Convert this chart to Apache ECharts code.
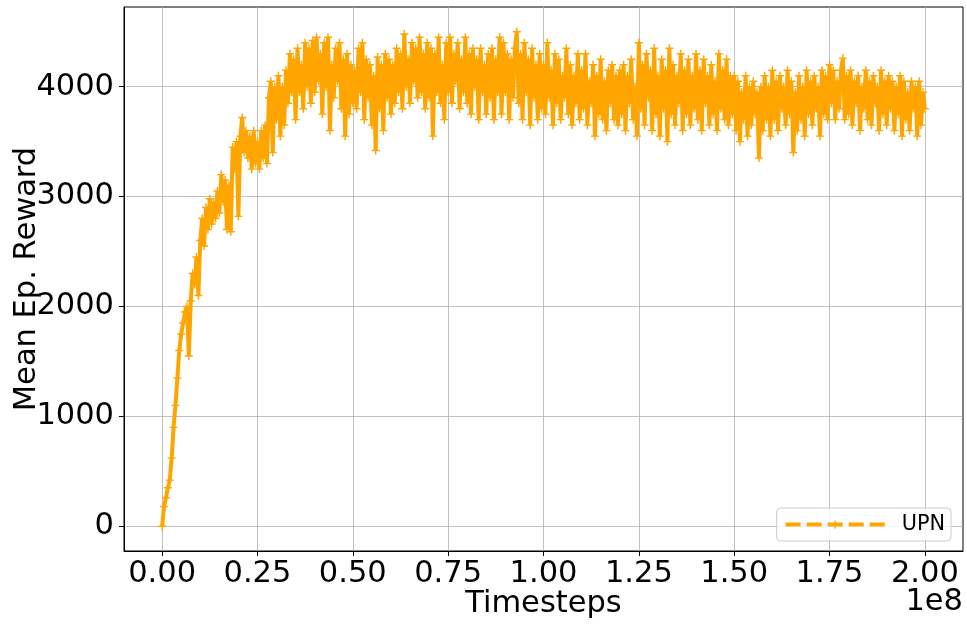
<!DOCTYPE html>
<html>
<head>
<meta charset="utf-8">
<script src="https://cdn.jsdelivr.net/npm/echarts@6/dist/echarts.min.js"></script>
<style>html,body{margin:0;padding:0;background:#fff;}#c{width:967px;height:627px;}</style>
</head>
<body>
<div id="c"></div>
<script>
// Timestep spacing between logged points
const STEP = 5e5;
// Mean episode reward, one value per logged point (0 .. 2e8)
const rewards = [
  0,180,260,350,420,620,900,1100,1350,1600,1750,1850,1950,2000,1550,2050,2300,2200,2450,2100,
  2600,2800,2550,2900,2700,2980,2750,2950,2800,3050,2850,3200,2950,3150,2700,3100,2680,3450,3250,3500,
  2820,3550,3720,3400,3600,3350,3550,3250,3600,3300,3500,3250,3600,3350,3650,3300,3900,4050,3400,4000,
  3700,4100,3550,4000,3650,4150,3850,4300,3950,4250,3700,4350,3950,4200,3800,4400,4000,4350,3850,4420,
  3950,4450,4050,4300,3750,4400,4000,4450,3600,4200,3900,4350,4050,4400,3800,4250,3550,4300,3750,4200,
  3850,4150,3800,4350,3950,4400,3700,4250,3900,4200,3650,4100,3420,4270,3800,4200,3600,4300,3900,4250,
  3750,4200,3850,4350,3950,4300,3800,4480,4000,4250,3850,4400,4050,4350,3900,4450,3950,4300,3800,4400,
  3900,4350,3550,4300,3950,4450,3850,4200,3700,4400,3950,4450,3850,4300,4050,4400,3800,4250,3950,4450,
  3850,4300,3750,4350,4000,4250,3700,4350,3950,4200,3750,4300,3900,4350,3700,4250,3950,4450,3750,4400,
  3950,4300,3700,4250,3900,4350,4500,3850,4300,3700,4400,3950,4250,3650,4350,3900,4200,3700,4300,3800,
  4200,3750,4400,3900,4150,3650,4300,3850,4250,3700,4100,3900,4350,3750,4200,3650,4100,3850,4300,3700,
  4150,3800,4300,3650,4050,3850,4200,3550,4100,3750,4250,3700,4050,3600,4150,3850,4200,3700,4100,3650,
  4150,3750,4200,3600,4100,3850,4250,3700,4000,3550,4400,3800,4200,3650,4300,3900,4150,3600,4350,3750,
  4100,3550,4250,3800,4150,3500,4350,3750,4200,3650,4100,3850,4300,3600,4150,3750,4250,3650,4100,3800,
  4300,3700,4150,3600,4250,3850,4100,3650,4200,3750,4050,3600,4300,3800,4150,3700,4250,3650,4100,3750,
  4100,3600,4050,3500,3950,3700,4100,3550,4000,3650,4050,3750,3950,3350,4000,3600,4100,3700,4000,3550,
  4150,3700,4050,3600,4100,3800,4000,3650,4150,3750,4050,3400,3950,3600,4100,3700,4000,3550,4150,3750,
  4050,3650,4100,3800,4000,3550,4150,3750,4100,3700,4200,3850,4150,3700,4050,3800,4150,4260,3700,4100,
  3750,4150,3650,4050,3850,4100,3600,4000,3800,4150,3700,4050,3650,4100,3850,4000,3600,4150,3750,4050,
  3650,4100,3800,4050,3600,4000,3750,4100,3550,4050,3700,3950,3600,4050,3800,4000,3550,4050,3650,3950,
  3800
];
// Axis tick values
const xTicks = [0, 0.25e8, 0.5e8, 0.75e8, 1e8, 1.25e8, 1.5e8, 1.75e8, 2e8];
const yTicks = [0, 1000, 2000, 3000, 4000];
const seriesName = 'UPN';

const points = rewards.map((v, i) => [i * STEP, v]);
const plus = 'path://M0,4.1H10V5.9H0Z M4.1,0H5.9V10H4.1Z';
const FONT = 'DejaVu Sans';
const FS = 30.5;

const chart = echarts.init(document.getElementById('c'), null, {renderer: 'canvas'});
chart.setOption({
  animation: false,
  backgroundColor: '#ffffff',
  grid: {left: 124, right: 4, top: 7, bottom: 76, outerBoundsMode: 'none', containLabel: false,
    show: true, borderColor: '#000', borderWidth: 1, backgroundColor: 'transparent'},
  xAxis: {
    type: 'value', min: -0.1e8, max: 2.1e8,
    name: 'Timesteps', nameLocation: 'middle', nameGap: 38,
    nameMoveOverlap: false,
    nameTextStyle: {fontFamily: FONT, fontSize: FS, color: '#000'},
    axisLine: {show: true, onZero: false, lineStyle: {color: '#000', width: 1}},
    axisTick: {show: true, length: 5, lineStyle: {color: '#000'}, customValues: xTicks},
    axisLabel: {customValues: xTicks, margin: 8, fontFamily: FONT, fontSize: FS, color: '#000',
      formatter: v => (v / 1e8).toFixed(2)},
    splitLine: {show: true, lineStyle: {color: '#b0b0b0', width: 0.8}}
  },
  yAxis: {
    type: 'value', min: -225, max: 4725,
    name: 'Mean Ep. Reward', nameLocation: 'middle', nameGap: 81,
    nameMoveOverlap: false,
    nameTextStyle: {fontFamily: FONT, fontSize: FS, color: '#000'},
    axisLine: {show: true, onZero: false, lineStyle: {color: '#000', width: 1}},
    axisTick: {show: true, length: 5, lineStyle: {color: '#000'}, customValues: yTicks},
    axisLabel: {customValues: yTicks, margin: 10, fontFamily: FONT, fontSize: FS, color: '#000',
      formatter: v => String(v)},
    splitLine: {show: true, lineStyle: {color: '#b0b0b0', width: 0.8}}
  },
  legend: {
    right: 16, bottom: 86, orient: 'horizontal',
    padding: [6, 6, 6, 7], itemWidth: 99, itemHeight: 10,
    borderColor: '#cccccc', borderWidth: 1, borderRadius: 4,
    backgroundColor: 'rgba(255,255,255,0.8)',
    lineStyle: {type: [15, 6], width: 4},
    textStyle: {fontFamily: FONT, fontSize: 20.8, color: '#000', padding: [0, 0, 0, 12]},
    data: [seriesName]
  },
  graphic: [{
    type: 'text', right: 4, top: 587,
    style: {text: '1e8', fontFamily: FONT, fontSize: FS, fill: '#000'}
  }],
  series: [{
    name: seriesName, type: 'line', data: points,
    showAllSymbol: true, symbol: plus, symbolSize: 8,
    itemStyle: {color: '#FFA500'},
    lineStyle: {color: '#FFA500', width: 4, type: 'solid'},
    sampling: null
  }]
});
</script>
</body>
</html>
